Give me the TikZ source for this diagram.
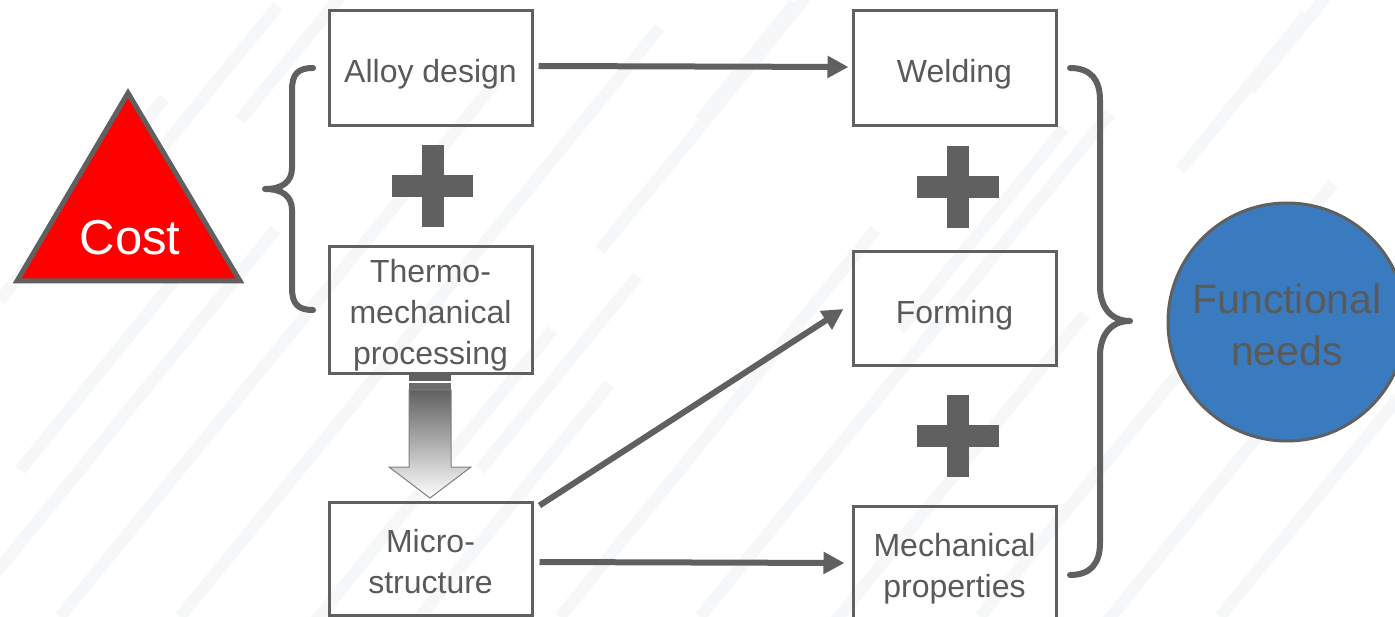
\documentclass[tikz,border=0pt]{standalone}
\usepackage{fontspec}
\setmainfont{Liberation Sans}
\usetikzlibrary{arrows.meta}
\definecolor{ink}{HTML}{606060}
\definecolor{txt}{HTML}{5A5A5A}
\definecolor{costred}{HTML}{FF0000}
\definecolor{funcblue}{HTML}{3A7BBF}
\definecolor{stripe}{HTML}{F6F7F9}
\tikzset{
  box/.style={draw=ink, line width=3pt, minimum width=203pt, minimum height=115pt,
    inner sep=0pt},
  boxtext/.style={text=txt, align=center, inner sep=0pt, font=\fontsize{32}{41}\selectfont},
  conn/.style={draw=ink, line width=6pt, -{Triangle[length=21pt,width=21pt]}},
  brace/.style={draw=ink, line width=6pt, line cap=round, line join=round},
  plusbar/.style={fill=ink},
  bgstripe/.style={draw=stripe, line width=12pt},
}
\begin{document}
\begin{tikzpicture}[x=1pt,y=-1pt]
\useasboundingbox (0,0) rectangle (1395,617);
\fill[white] (0,0) rectangle (1395,617);
% faint background stripes
\begin{scope}
\clip (0,0) rectangle (1395,617);
\foreach \sx/\sy/\len in {0/300/260, -40/617/500, 60/617/700, 180/617/760, 300/640/400,
  420/617/300, 560/617/500, 700/617/650, 820/640/420, 980/617/560, 1100/630/700,
  1220/617/520, 1300/400/300, 120/200/250, 240/120/160, 600/250/330, 700/120/150,
  900/330/260, 1180/170/200, 1250/90/120, 480/470/250, 20/470/300}
  \draw[bgstripe] (\sx,\sy) -- ++(0.631*\len,-0.775*\len);
\end{scope}

% boxes
\node[box, label={[boxtext, yshift=-6pt]center:Alloy design}] (alloy) at (430.5,68.5) {};
\node[box, minimum height=127pt, label={[boxtext, yshift=-5pt]center:Thermo-\\mechanical\\processing}] (thermo) at (430.5,310.5) {};
\node[box, minimum height=113pt, label={[boxtext, yshift=-3pt]center:Micro-\\structure}] (micro) at (430.5,558.5) {};
\node[box, label={[boxtext, yshift=-6pt]center:Welding}] (weld) at (954.5,68.5) {};
\node[box, minimum height=114pt, label={[boxtext, yshift=-6pt]center:Forming}] (form) at (954.5,309) {};
\node[box, label={[boxtext, yshift=-5pt]center:Mechanical\\properties}] (mech) at (954.5,563.5) {};

% plus signs
\fill[plusbar] (392,175) rectangle (473,197);
\fill[plusbar] (421.5,145) rectangle (443.5,227);
\fill[plusbar] (917,176) rectangle (999,198);
\fill[plusbar] (947,146) rectangle (969,228);
\fill[plusbar] (917,425) rectangle (999,447);
\fill[plusbar] (947,395) rectangle (969,477);

% connectors
\draw[conn] ([xshift=5pt,yshift=2.5pt]alloy.east) -- ([xshift=-3pt,yshift=1.5pt]weld.west);
\draw[conn] ([shift={(6pt,-5pt)}]micro.north east) -- ([xshift=-8pt]form.west);
\draw[conn] ([xshift=6pt,yshift=-3.5pt]micro.east) -- ([xshift=-7pt,yshift=0.5pt]mech.west);

% striped gradient block arrow
\fill[ink] (409,375) rectangle (451,381);
\fill[ink!92] (409,383) rectangle (451,390);
\shade[top color=ink, bottom color=white, draw=ink!80, line width=1pt]
  (409,390) -- (451,390) -- (451,467) -- (471,467) -- (430,498) -- (389,467) -- (409,467) -- cycle;

% braces
\draw[brace] (313,68) .. controls (298,68) and (292,74) .. (292,90) -- (292,168)
  .. controls (292,182) and (282,189) .. (265,189)
  .. controls (282,189) and (292,196) .. (292,210) -- (292,288)
  .. controls (292,304) and (298,310) .. (313,310);
\draw[brace] (1070,68) .. controls (1091,68) and (1100,80) .. (1100,100) -- (1100,286)
  .. controls (1100,306) and (1110,321) .. (1130,321)
  .. controls (1110,321) and (1100,336) .. (1100,356) -- (1100,543)
  .. controls (1100,563) and (1091,575) .. (1070,575);

% cost triangle
\draw[draw=ink, line width=5pt, fill=costred, line join=miter] (128,93) -- (240,281) -- (17,281) -- cycle;
\node[text=white, font=\fontsize{49}{56}\selectfont, inner sep=0pt] (cost) at (130,238) {Cost};

% functional needs circle
\node[circle, draw=ink, line width=3pt, fill=funcblue, minimum size=238pt, inner sep=0pt] (func) at (1287,322) {};
\node[text=txt, align=center, inner sep=0pt, font=\fontsize{41}{52}\selectfont] (functext) at (1287,325) {Functional\\needs};
\end{tikzpicture}
\end{document}
